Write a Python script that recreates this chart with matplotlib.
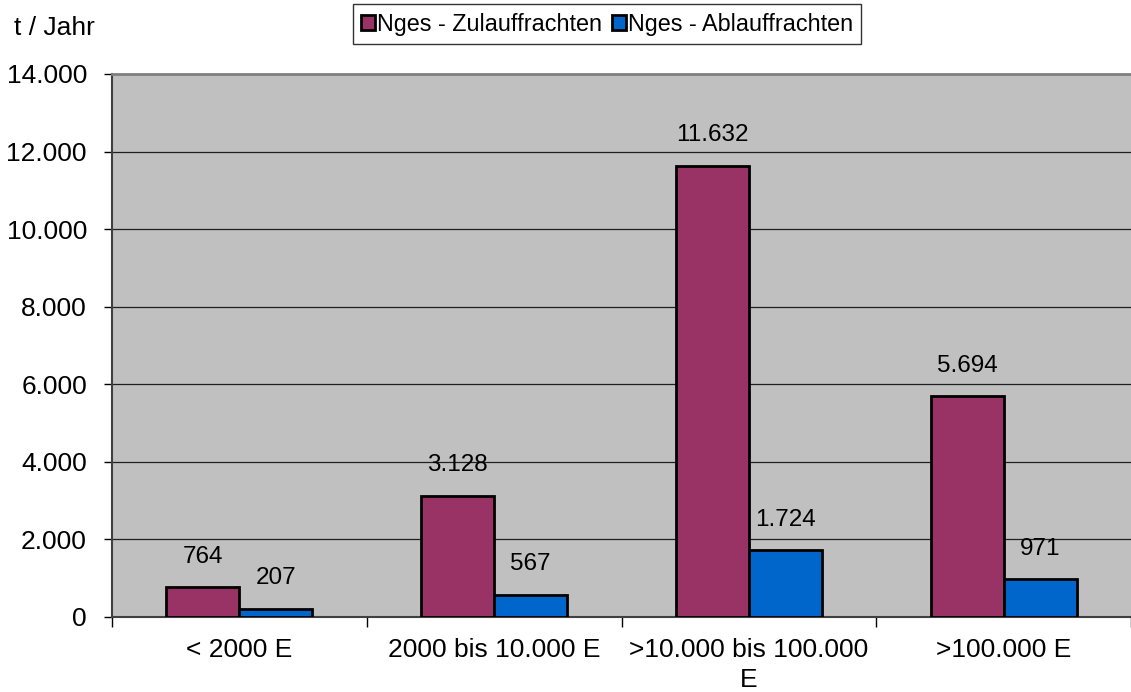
import matplotlib
matplotlib.use("Agg")
import matplotlib.pyplot as plt
import numpy as np

categories = ["< 2000 E", "2000 bis 10.000 E", ">10.000 bis 100.000\nE", ">100.000 E"]
zulauf = [764, 3128, 11632, 5694]
ablauf = [207, 567, 1724, 971]
series_names = ["Nges - Zulauffrachten", "Nges - Ablauffrachten"]
yticks = [0, 2000, 4000, 6000, 8000, 10000, 12000, 14000]

def fmt(v):
    return f"{v:,}".replace(",", ".")

plt.rcParams['font.family'] = ['Liberation Sans', 'DejaVu Sans']
fs_tick = 19
fs_val = 17.5
fs_leg = 16.8

fig = plt.figure(figsize=(11.31, 6.92), dpi=100)
ax = fig.add_axes([112/1131, 75/692, 1 - 112/1131, (617-74)/692])
ax.set_facecolor('#C0C0C0')

x = np.arange(len(categories))
w = 0.287
b1 = ax.bar(x - w/2, zulauf, w, color='#993366', edgecolor='black', linewidth=2, zorder=3, label=series_names[0])
b2 = ax.bar(x + w/2, ablauf, w, color='#0066CC', edgecolor='black', linewidth=2, zorder=3, label=series_names[1])

for bars, vals in ((b1, zulauf), (b2, ablauf)):
    for r, v in zip(bars, vals):
        ax.annotate(fmt(v), (r.get_x() + r.get_width()/2, v), xytext=(0, 22),
                    textcoords='offset points', ha='center', va='center', fontsize=fs_val)

ax.set_xlim(-0.5, len(categories) - 0.5)
ax.set_ylim(0, 14000)
ax.set_yticks(yticks)
ax.set_yticklabels([fmt(t) for t in yticks], fontsize=fs_tick)
ax.yaxis.grid(True, color='#202020', linewidth=0.9, zorder=1)

ax.set_xticks(np.arange(len(categories) + 1) - 0.5)
ax.set_xticklabels([])
ax.set_xticks(x, minor=True)
ax.set_xticklabels(categories, minor=True, fontsize=fs_tick)
ax.tick_params(axis='x', which='minor', length=0, pad=15)
ax.tick_params(axis='x', which='major', length=7, width=1, color='black', direction='out')
ax.tick_params(axis='y', length=6, width=1, direction='out', pad=12)
for lbl in ax.get_xticklabels(minor=True):
    lbl.set_linespacing(1.35)

ax.spines['top'].set_color('#808080')
ax.spines['top'].set_linewidth(2)
ax.spines['right'].set_visible(False)
ax.spines['left'].set_color('#404040')
ax.spines['left'].set_linewidth(1.5)
ax.spines['bottom'].set_color('#404040')
ax.spines['bottom'].set_linewidth(1.5)

fig.text(14/1131, 1 - 28/692, "t / Jahr", fontsize=fs_tick, ha='left', va='center')

leg = fig.legend(handles=[b1, b2], labels=series_names, loc='center', bbox_to_anchor=(607/1131, 1 - 24/692),
                 ncol=2, fontsize=fs_leg, frameon=True, fancybox=False, edgecolor='black',
                 handlelength=0.6, handleheight=0.6, handletextpad=0.1, columnspacing=0.4,
                 borderpad=0.35, borderaxespad=0)
leg.get_frame().set_linewidth(1)

fig.savefig("out.png", dpi=100)
